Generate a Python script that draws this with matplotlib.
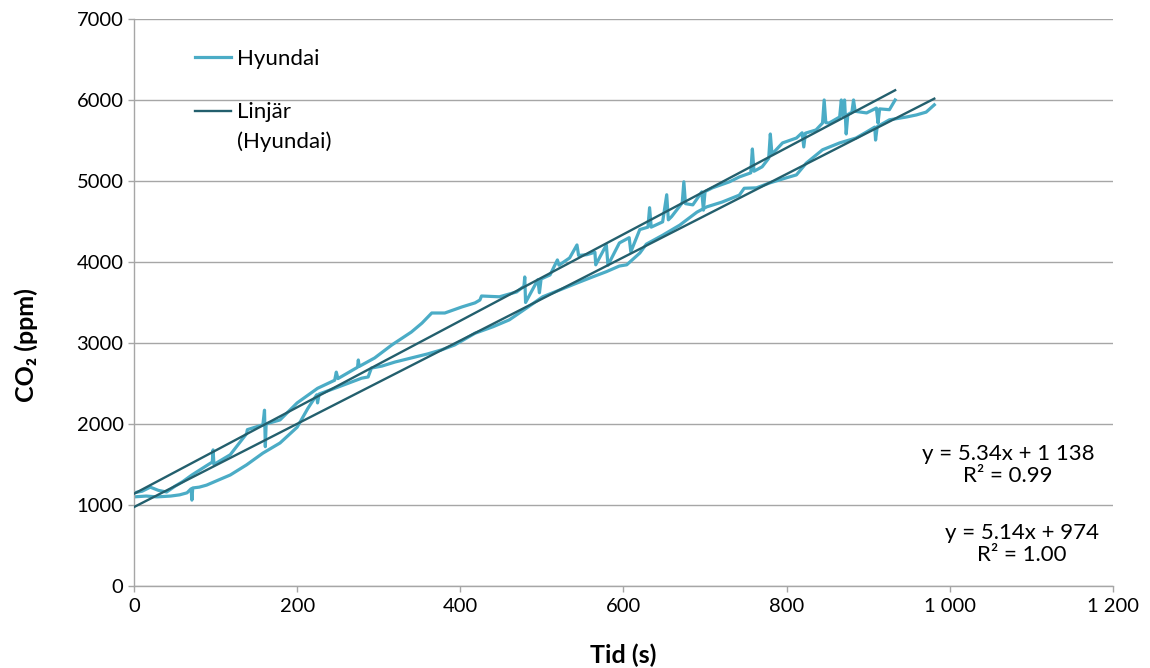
import numpy as np
import matplotlib
matplotlib.use("Agg")
import matplotlib.pyplot as plt
from matplotlib.legend_handler import HandlerLine2D

plt.rcParams['font.family'] = ['Lato', 'DejaVu Sans']

# Hyundai, run 1 (upper trace)
t1 = [0, 10, 20, 30, 40, 50, 60, 71, 85, 96, 97, 98, 118, 138, 139, 158, 160, 161, 162,
      179, 200, 225, 246, 248, 250, 274, 275, 276, 295, 316, 340, 353, 365, 381, 402,
      418, 424, 426, 448, 469, 478, 479, 480, 495, 497, 499, 510, 519, 521, 534, 543,
      545, 555, 565, 566, 579, 581, 595, 607, 609, 620, 630, 632, 634, 648, 653, 655,
      659, 672, 674, 676, 685, 696, 698, 700, 709, 730, 742, 756, 758, 760, 770, 778,
      780, 782, 795, 812, 819, 821, 823, 836, 844, 846, 848, 852, 865, 867, 869, 871,
      873, 875, 880, 882, 884, 898, 910, 912, 914, 926, 933]
co2_1 = [1150, 1170, 1220, 1180, 1160, 1230, 1290, 1370, 1460, 1530, 1680, 1500, 1620,
         1880, 1930, 1990, 2170, 1720, 2000, 2050, 2260, 2440, 2540, 2640, 2560, 2700,
         2790, 2710, 2815, 2975, 3135, 3245, 3370, 3370, 3445, 3495, 3530, 3580, 3570,
         3630, 3700, 3815, 3500, 3780, 3620, 3790, 3840, 4025, 3960, 4050, 4210, 4080,
         4090, 4120, 3965, 4210, 3960, 4235, 4300, 4125, 4400, 4430, 4670, 4430, 4495,
         4830, 4520, 4560, 4730, 4990, 4720, 4705, 4865, 4640, 4870, 4915, 4990, 5050,
         5100, 5395, 5120, 5175, 5280, 5580, 5330, 5470, 5530, 5595, 5420, 5590, 5630,
         5715, 6000, 5720, 5715, 5790, 6000, 5800, 6000, 5580, 5820, 5850, 6000, 5860,
         5840, 5900, 5715, 5890, 5880, 6000]

# Hyundai, run 2 (lower trace)
t2 = [0, 15, 28, 45, 56, 65, 70, 71, 72, 80, 89, 104, 118, 138, 158, 179, 200, 213, 224,
      225, 227, 250, 279, 287, 291, 304, 320, 344, 360, 377, 393, 418, 440, 460, 481,
      501, 522, 543, 562, 579, 595, 604, 620, 628, 648, 669, 690, 702, 721, 742, 748,
      763, 779, 800, 812, 824, 844, 865, 885, 898, 908, 909, 911, 926, 947, 959, 971, 981]
co2_2 = [1100, 1110, 1100, 1110, 1125, 1150, 1200, 1060, 1210, 1220, 1245, 1310, 1370,
         1495, 1640, 1765, 1960, 2190, 2360, 2260, 2370, 2455, 2565, 2580, 2690, 2715,
         2765, 2825, 2865, 2915, 2975, 3120, 3200, 3285, 3430, 3570, 3655, 3740, 3815,
         3880, 3950, 3965, 4110, 4220, 4330, 4455, 4615, 4680, 4740, 4825, 4910, 4915,
         4975, 5040, 5075, 5220, 5385, 5470, 5530, 5605, 5665, 5505, 5670, 5755, 5790,
         5815, 5850, 5940]

# linear trend lines as shown on the chart
trend1 = (5.34, 1138, "y = 5.34x + 1 138\nR² = 0.99")
trend2 = (5.14, 974, "y = 5.14x + 974\nR² = 1.00")

data_color = '#4bacc6'
trend_color = '#235f6d'
grid_color = '#a6a6a6'


class FirstLineHandler(HandlerLine2D):
    # put the legend line next to the first row of a two-row label
    def __init__(self, shift, **kw):
        super().__init__(**kw)
        self.shift = shift

    def create_artists(self, legend, orig_handle, xdescent, ydescent, width, height,
                       fontsize, trans):
        arts = super().create_artists(legend, orig_handle, xdescent, ydescent, width,
                                      height, fontsize, trans)
        for a in arts:
            a.set_ydata(np.asarray(a.get_ydata()) + self.shift * fontsize)
        return arts


fig = plt.figure(figsize=(11.5, 6.68), dpi=100)
ax = fig.add_axes([0.1165, 0.1228, 0.8513, 0.8488])

ax.plot(t1, co2_1, color=data_color, lw=2.3, label='Hyundai', zorder=2)
ax.plot(t2, co2_2, color=data_color, lw=2.3, zorder=2)

trend_lines = []
for t, (k, m, _) in [(t1, trend1), (t2, trend2)]:
    xs = np.array([t[0], t[-1]])
    ln, = ax.plot(xs, k * xs + m, color=trend_color, lw=1.7, zorder=3)
    trend_lines.append(ln)

ax.text(0.893, 0.213, trend1[2], transform=ax.transAxes, ha='center', va='center',
        fontsize=16, linespacing=1.1)
ax.text(0.907, 0.074, trend2[2], transform=ax.transAxes, ha='center', va='center',
        fontsize=16, linespacing=1.1)

ax.set_xlim(0, 1200)
ax.set_ylim(0, 7000)
ax.set_xticks(range(0, 1201, 200))
ax.set_xticklabels(['0', '200', '400', '600', '800', '1 000', '1 200'])
ax.set_yticks(range(0, 7001, 1000))
ax.yaxis.grid(True, color=grid_color, lw=1)
ax.set_axisbelow(True)
for s in ['top', 'right']:
    ax.spines[s].set_visible(False)
for s in ['left', 'bottom']:
    ax.spines[s].set_color(grid_color)
    ax.spines[s].set_linewidth(1)
ax.tick_params(colors=grid_color, labelcolor='black', labelsize=14.5, length=4, width=1)
ax.tick_params(axis='x', pad=5)

ax.set_xlabel('Tid (s)', fontsize=18, fontweight='bold', va='top')
ax.xaxis.set_label_coords(0.5, -0.102)
ax.set_ylabel('CO₂ (ppm)', fontsize=18, fontweight='bold')
ax.yaxis.set_label_coords(-0.098, 0.425)

leg = ax.legend([ax.lines[0], trend_lines[0]], ['Hyundai', 'Linjär\n(Hyundai)'],
                loc='upper left', bbox_to_anchor=(0.042, 0.983), frameon=False,
                fontsize=16, handlelength=1.6, handletextpad=0.3, labelspacing=1.5,
                handler_map={trend_lines[0]: FirstLineHandler(0.7)})
for txt in leg.get_texts():
    txt.set_linespacing(1.55)

fig.savefig('out.png', dpi=100)
